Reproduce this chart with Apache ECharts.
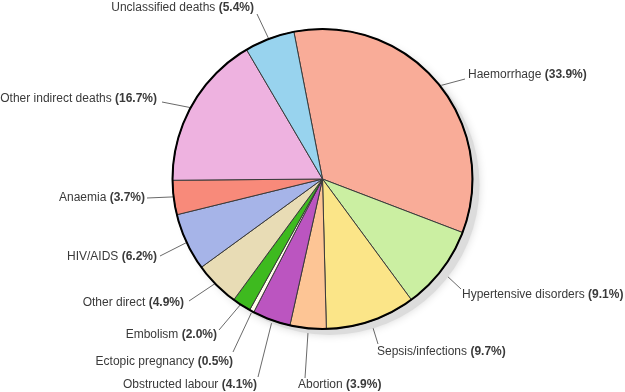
<!DOCTYPE html>
<html>
<head>
<meta charset="utf-8">
<script src="https://cdn.jsdelivr.net/npm/echarts@6/dist/echarts.min.js"></script>
<style>
html,body{margin:0;padding:0;background:#fff;}
#chart{width:625px;height:392px;}
</style>
</head>
<body>
<div id="chart"></div>
<script>
// ---- data ----
const categories = ['Haemorrhage','Hypertensive disorders','Sepsis/infections','Abortion','Obstructed labour','Ectopic pregnancy','Embolism','Other direct','HIV/AIDS','Anaemia','Other indirect deaths','Unclassified deaths'];
const values = [33.9, 9.1, 9.7, 3.9, 4.1, 0.5, 2.0, 4.9, 6.2, 3.7, 16.7, 5.4];

// ---- styling / layout ----
const colors = ['#F9AC98','#CBEFA2','#FBE588','#FDC595','#BB55C0','#FFFCEB','#3EBA1F','#E8DCB5','#A6B4E8','#F88A7A','#EEB2E0','#98D3EE'];
const CX = 322.5, CY = 179, R = 150, START = 101;
// label leader-line end point, text anchor point, alignment
const labelAnchors = [
  [465, 79, 468, 75, 'left'],
  [461, 289, 462, 295, 'left'],
  [378, 344, 377, 352, 'left'],
  [305, 378, 298, 385, 'left'],
  [258, 377, 257, 385, 'right'],
  [233, 352, 233, 362, 'right'],
  [219, 330, 217, 335, 'right'],
  [189, 301, 184, 303, 'right'],
  [160, 256, 157, 257, 'right'],
  [147, 198, 145, 198, 'right'],
  [162, 102, 157, 99, 'right'],
  [257, 14, 254, 8, 'right']
];
const FONT = '"Liberation Sans", Arial, sans-serif';

const total = values.reduce((a, b) => a + b, 0);
const cum = [];
values.reduce((acc, v, i) => { cum[i] = acc; return acc + v; }, 0);

const chart = echarts.init(document.getElementById('chart'), null, {renderer: 'canvas'});
chart.setOption({
  animation: false,
  backgroundColor: '#fff',
  series: [
    {
      type: 'pie', silent: true, center: [CX + 7, CY + 6], radius: R,
      label: {show: false}, labelLine: {show: false},
      itemStyle: {color: '#dcdcdc', shadowBlur: 8, shadowColor: 'rgba(0,0,0,0.15)'},
      emphasis: {disabled: true},
      data: [{value: 1, name: 'shadow'}]
    },
    {
      type: 'pie', silent: true, center: [CX, CY], radius: R, startAngle: START,
      clockwise: true, avoidLabelOverlap: false,
      itemStyle: {borderColor: '#3a3a3a', borderWidth: 1},
      emphasis: {disabled: true},
      label: {
        show: true, position: 'outside', color: '#3a3a3a',
        fontFamily: FONT, fontSize: 12,
        formatter: p => p.name + ' {b|(' + p.value.toFixed(1) + '%)}',
        rich: {b: {fontWeight: 'bold', fontFamily: FONT, fontSize: 12, color: '#3a3a3a'}}
      },
      labelLine: {show: true, length: 10, length2: 0, lineStyle: {color: '#6a6a6a', width: 1}},
      labelLayout: function (params) {
        const i = params.dataIndex;
        const a = labelAnchors[i];
        const theta = ((90 - START) + 360 * (cum[i] + values[i] / 2) / total) * Math.PI / 180;
        const rho = R - 9;
        const inner = [CX + rho * Math.sin(theta), CY - rho * Math.cos(theta)];
        return {
          x: a[2], y: a[3], align: a[4], verticalAlign: 'middle',
          labelLinePoints: [inner, [a[0], a[1]], [a[0], a[1]]]
        };
      },
      data: categories.map((c, i) => ({name: c, value: values[i], itemStyle: {color: colors[i]}}))
    },
    {
      type: 'pie', silent: true, center: [CX, CY], radius: R,
      label: {show: false}, labelLine: {show: false},
      itemStyle: {color: 'rgba(0,0,0,0)', borderColor: '#000', borderWidth: 2},
      emphasis: {disabled: true},
      data: [{value: 1, name: 'outline'}]
    }
  ]
});
</script>
</body>
</html>
